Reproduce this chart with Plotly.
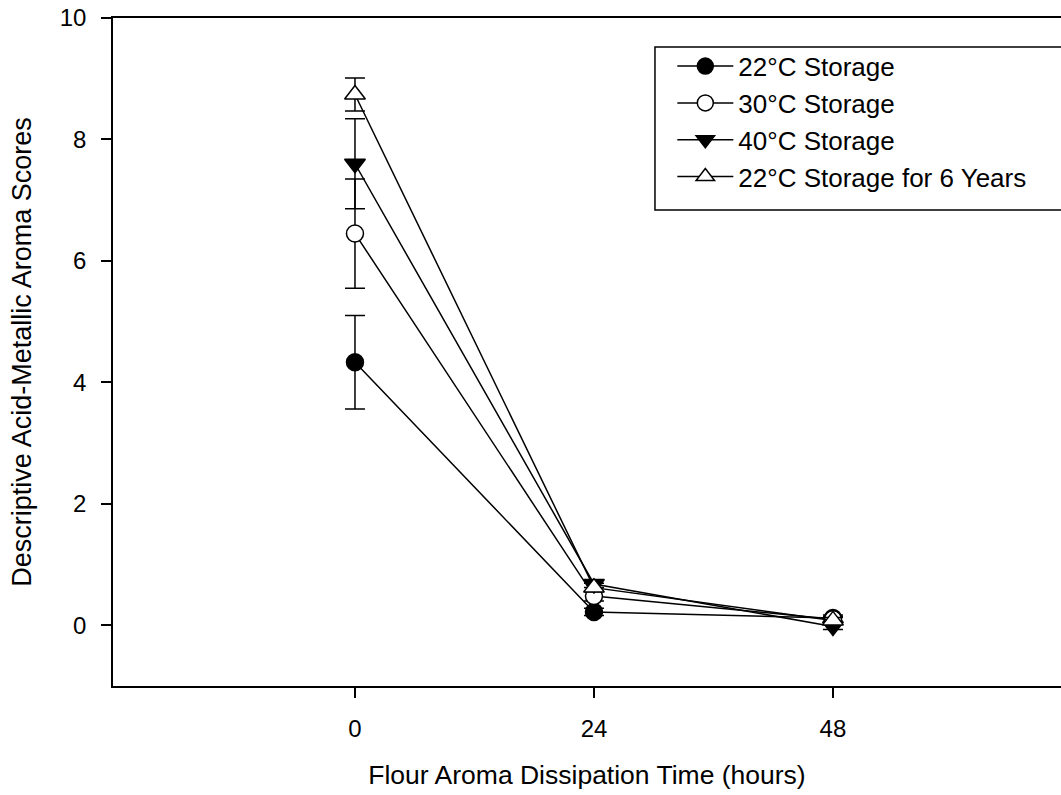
import plotly.graph_objects as go

hours = [0, 24, 48]
series_names = ["22°C Storage", "30°C Storage", "40°C Storage", "22°C Storage for 6 Years"]
s22 = [4.33, 0.22, 0.12]
s22_err = [0.77, 0.06, 0.05]
s30 = [6.45, 0.48, 0.10]
s30_err = [0.90, 0.08, 0.05]
s40 = [7.60, 0.68, -0.02]
s40_err = [0.74, 0.06, 0.05]
s22_6y = [8.74, 0.62, 0.08]
s22_6y_err = [0.27, 0.07, 0.05]

x_ticks = [0, 24, 48]
y_ticks = [0, 2, 4, 6, 8, 10]

values = [s22, s30, s40, s22_6y]
errors = [s22_err, s30_err, s40_err, s22_6y_err]
symbols = ["circle", "circle", "triangle-down", "triangle-up"]
fills = ["black", "white", "black", "white"]
sizes = [17, 17, 18, 18]

fig = go.Figure()
for name, y, e, sym, fc, sz in zip(series_names, values, errors, symbols, fills, sizes):
    fig.add_trace(go.Scatter(
        x=hours, y=y, name=name, mode="lines+markers",
        line=dict(color="black", width=1.5),
        marker=dict(symbol=sym, size=sz, color=fc, line=dict(color="black", width=1.5)),
        error_y=dict(type="data", array=e, visible=True, color="black", thickness=1.5, width=10),
    ))

font_family = "Liberation Sans, Arial, sans-serif"
fig.update_layout(
    width=1061, height=795,
    margin=dict(l=113, r=0, t=18, b=109),
    plot_bgcolor="white", paper_bgcolor="white",
    font=dict(family=font_family, size=24, color="black"),
    showlegend=True,
    legend=dict(x=0.59, y=0.963, xanchor="left", yanchor="top",
                bgcolor="rgba(0,0,0,0)", borderwidth=0,
                font=dict(size=26, family=font_family),
                itemwidth=56),
    xaxis=dict(range=[-24.3, 70.9], tickvals=x_ticks, ticks="outside", ticklen=10,
               tickwidth=1.5, tickcolor="black", showline=True, linecolor="black",
               linewidth=1.5, mirror=True, showgrid=False, zeroline=False,
               ticklabelstandoff=10, tickfont=dict(size=24),
               title=dict(text="Flour Aroma Dissipation Time (hours)", standoff=25,
                          font=dict(size=26.5))),
    yaxis=dict(range=[-1, 10], tickvals=y_ticks, ticks="outside", ticklen=10,
               tickwidth=1.5, tickcolor="black", showline=True, linecolor="black",
               linewidth=1.5, mirror=False, showgrid=False, zeroline=False,
               ticklabelstandoff=10, tickfont=dict(size=24),
               title=dict(text="Descriptive Acid-Metallic Aroma Scores", standoff=20,
                          font=dict(size=27))),
)
fig.add_shape(type="rect", xref="paper", yref="paper",
              x0=0.5717, x1=1.05, y0=0.7126, y1=0.9566,
              line=dict(color="black", width=1.5), fillcolor="rgba(0,0,0,0)", layer="above")
fig.write_html("out.html")
